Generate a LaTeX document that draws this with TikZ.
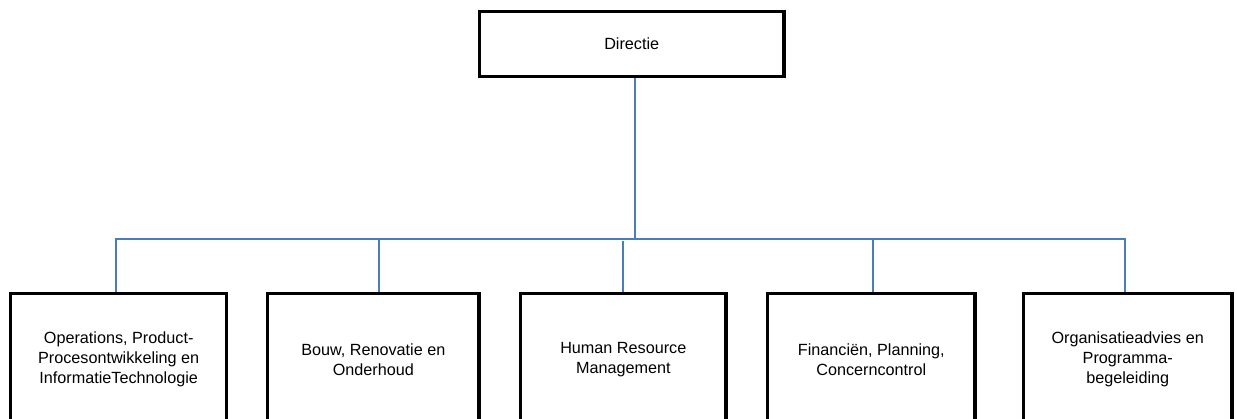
\documentclass[tikz,border=0pt]{standalone}
\usepackage{fontspec}
\setmainfont{Liberation Sans}
\definecolor{connblue}{RGB}{74,126,187}
\tikzset{
  box/.style={draw=black, line width=3.2pt, align=center, inner sep=0pt,
              font=\fontsize{16.2}{20.2}\selectfont},
  child/.style={box, minimum height=132pt},
  conn/.style={draw=connblue, line width=2pt},
}
\begin{document}
\begin{tikzpicture}
\useasboundingbox (0,0) rectangle (1237pt,419pt);
\clip (0,0) rectangle (1237pt,419pt);
\node[box, minimum width=304.5pt, minimum height=65pt] (top) at (631.7pt,374.8pt) {Directie};
\node[child, minimum width=216pt] (c1) at (118.7pt,59.5pt)
  {Operations, Product-\\Procesontwikkeling en\\InformatieTechnologie};
\node[child, minimum width=211.3pt] (c2) at (373.3pt,59.5pt)
  {Bouw, Renovatie en\\Onderhoud};
\node[child, minimum width=205.3pt] (c3) at (623.3pt,59.5pt)
  {Human Resource\\Management};
\node[child, minimum width=207.3pt] (c4) at (871.3pt,59.5pt)
  {Financiën, Planning,\\Concerncontrol};
\node[child, minimum width=208.7pt] (c5) at (1127.7pt,59.5pt)
  {Organisatieadvies en\\Programma-\\begeleiding};
\coordinate (bus) at (0,180.3pt);
\coordinate (k0) at ([xshift=2.8pt]top.south);
\coordinate (k1) at ([xshift=-3.2pt]c1.north);
\coordinate (k2) at ([xshift=5.5pt]c2.north);
\coordinate (k3) at (c3.north);
\coordinate (k4) at ([xshift=1.9pt]c4.north);
\coordinate (k5) at ([xshift=-2.9pt]c5.north);
\draw[conn] (k1) -- (k1 |- bus) -- (k5 |- bus) -- (k5);
\draw[conn] (k0) -- (k0 |- bus);
\draw[conn] (k2 |- bus) -- (k2);
\draw[conn] ([yshift=-2pt]k3 |- bus) -- (k3);
\draw[conn] (k4 |- bus) -- (k4);
\end{tikzpicture}
\end{document}
